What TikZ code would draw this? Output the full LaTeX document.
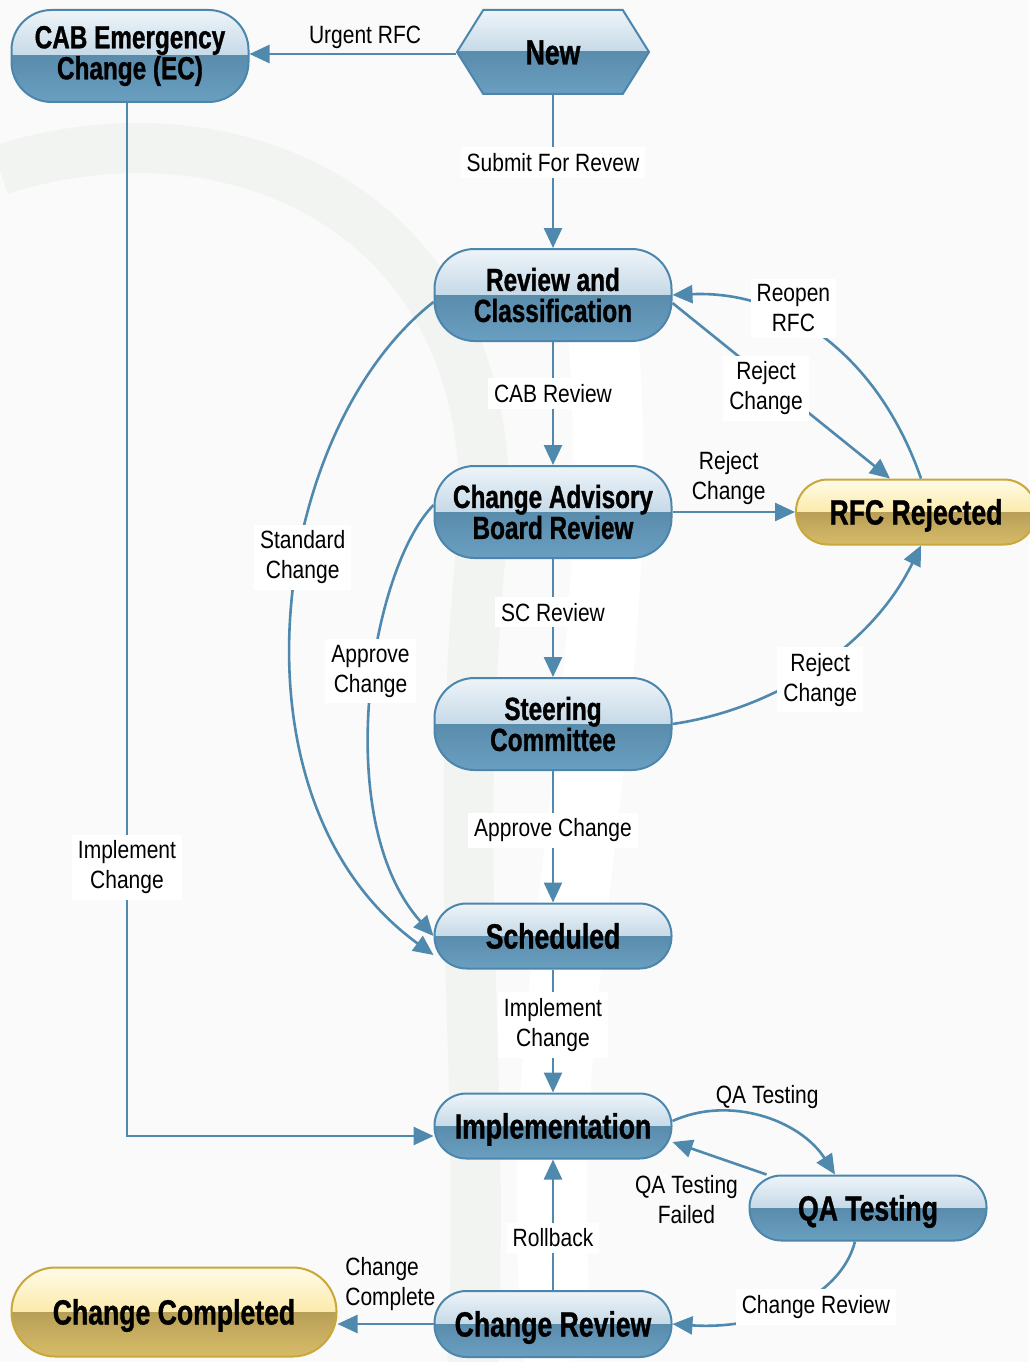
\documentclass[tikz,border=0pt]{standalone}
\usepackage{fontspec}
\setmainfont{Liberation Sans}
\newfontfamily\labelfamily{Liberation Sans}[FakeStretch=0.84]
\newfontfamily\statefamily{Liberation Sans}[FakeStretch=0.76,BoldFeatures={FakeBold=1}]
\usetikzlibrary{arrows.meta,shapes.symbols}
\definecolor{blueedge}{HTML}{4C86AC}
\definecolor{bluetop}{HTML}{EEF4F9}
\definecolor{bluemid}{HTML}{9DBFD5}
\definecolor{bluelow}{HTML}{5A8CAC}
\definecolor{bluebot}{HTML}{6A9FC1}
\definecolor{goldedge}{HTML}{C9A73A}
\definecolor{goldtop}{HTML}{FFFBE8}
\definecolor{goldmid}{HTML}{F8DA6E}
\definecolor{goldlow}{HTML}{B89F58}
\definecolor{goldbot}{HTML}{D6BC68}
\definecolor{linkblue}{HTML}{5089AE}
\definecolor{paper}{HTML}{F9FAF9}
\definecolor{swoosh}{HTML}{F2F4F1}
\newcommand{\stagefont}{\statefamily\bfseries\fontsize{32}{31}\selectfont}
\newcommand{\bigstagefont}{\statefamily\bfseries\fontsize{35}{36}\selectfont}
\newcommand{\lblfont}{\labelfamily\fontsize{25}{30}\selectfont}

\begin{document}
\begin{tikzpicture}[x=1pt,y=-1pt,
  stage/.style={draw=#1edge, line width=2pt, rounded corners=40pt,
    minimum width=237, minimum height=92, align=center, font=\stagefont,
    path picture={
      \shade[sharp corners,top color=#1top,bottom color=#1mid] (path picture bounding box.north west) rectangle (path picture bounding box.east);
      \shade[sharp corners,top color=#1low,bottom color=#1bot] (path picture bounding box.west) rectangle (path picture bounding box.south east);}},
  stage/.default=blue,
  flat/.style={minimum height=65, rounded corners=32pt, font=\bigstagefont, text height=25pt, text depth=0pt},
  link/.style={draw=linkblue, line width=2.6pt, -{Triangle[length=20pt,width=18pt]}},
  lbl/.style={fill=white, inner sep=6pt, align=center, font=\lblfont},
  txt/.style={inner sep=2pt, align=center, font=\lblfont}]
\useasboundingbox (0,0) rectangle (1029,1362);
\fill[paper] (0,0) rectangle (1029,1362);
\draw[swoosh, line width=50pt] (0,170) .. controls (250,90) and (520,230) .. (480,560) .. controls (450,900) and (490,1100) .. (470,1400);
\draw[white, line width=70pt] (600,300) .. controls (640,700) and (520,1000) .. (560,1362);

% states
\node[stage] (ec) at (130,56) {CAB Emergency\\Change (EC)};
\node[stage, sharp corners, signal, signal to=west and east, signal pointer angle=116,
  minimum width=192, minimum height=84, font=\bigstagefont, text height=25pt, text depth=0pt] (new) at (553,52) {New};
\node[stage] (review) at (553,295) {Review and\\Classification};
\node[stage] (cab) at (553,512) {Change Advisory\\Board Review};
\node[stage=gold, flat, minimum width=240] (rejected) at (916,512) {RFC Rejected};
\node[stage] (steering) at (553,724) {Steering\\Committee};
\node[stage, flat] (scheduled) at (553,936) {Scheduled};
\node[stage, flat] (impl) at (553,1126) {Implementation};
\node[stage, flat] (qa) at (868,1208) {QA Testing};
\node[stage, flat, minimum height=66] (creview) at (553,1324) {Change Review};
\node[stage=gold, flat, minimum width=325, minimum height=89, rounded corners=44pt] (done) at (174,1312) {Change Completed};

% main line
\draw[link] ([yshift=-2pt]new.west) -- node[txt, pos=0.44, above=2pt] {Urgent RFC} ([yshift=-2pt]new.west -| ec.east);
\draw[link] (new) -- node[lbl, pos=0.44] {Submit For Revew} (review);
\draw[link] (review) -- node[lbl, pos=0.42] {CAB Review} (cab);
\draw[link] (cab) -- node[lbl, pos=0.45] {SC Review} (steering);
\draw[link] (steering) -- node[lbl, pos=0.45] {Approve Change} (scheduled);
\draw[link] (scheduled) -- node[lbl, pos=0.45] {Implement\\Change} (impl);
\draw[link] (creview) -- node[lbl, pos=0.4] {Rollback} (impl);
\draw[link] (creview.west) -- node[txt, align=left, pos=0.45, above=10pt] {Change\\Complete} (creview.west -| done.east);

% rejections
\draw[link] (cab.east) -- node[txt, above=4pt, xshift=-5pt] {Reject\\Change} (cab.east -| rejected.west);
\draw[link] ([yshift=-8pt]review.east) -- node[lbl, pos=0.43, yshift=-10pt] {Reject\\Change} ([xshift=-26pt]rejected.north);
\draw[link] ([xshift=5pt]rejected.north) .. controls (880,360) and (790,290) .. node[lbl, pos=0.62, yshift=12pt] {Reopen\\RFC} (review.east);
\draw[link] (steering.east) .. controls (770,710) and (870,650) .. node[lbl, pos=0.5, xshift=6pt, yshift=-11pt] {Reject\\Change} ([xshift=5pt]rejected.south);

% shortcuts to scheduled
\draw[link] ([yshift=-7pt]review.west) .. controls (270,430) and (220,800) .. node[lbl, pos=0.42, xshift=4pt] {Standard\\Change} ([yshift=-19pt]scheduled.west);
\draw[link] ([yshift=7pt]cab.west) .. controls (370,570) and (330,820) .. node[lbl, pos=0.44, xshift=-3pt] {Approve\\Change} (scheduled.west);
\draw[link] ([xshift=-3pt]ec.south) |- node[lbl, pos=0.37] {Implement\\Change} ([yshift=-10pt]impl.west);

% testing loop
\draw[link] ([yshift=5pt]impl.east) .. controls (730,1095) and (800,1120) .. node[txt, pos=0.5, above=6pt, xshift=5pt] {QA Testing} ([xshift=-33pt]qa.north);
\draw[link] ([xshift=18pt]qa.north west) -- node[txt, pos=0.5, xshift=-33pt, yshift=-41pt] {QA Testing\\Failed} ([yshift=-16pt]impl.east);
\draw[link] ([xshift=-13pt]qa.south) .. controls (840,1300) and (760,1330) .. node[lbl, pos=0.5, xshift=25pt] {Change Review} (creview.east);
\end{tikzpicture}
\end{document}
